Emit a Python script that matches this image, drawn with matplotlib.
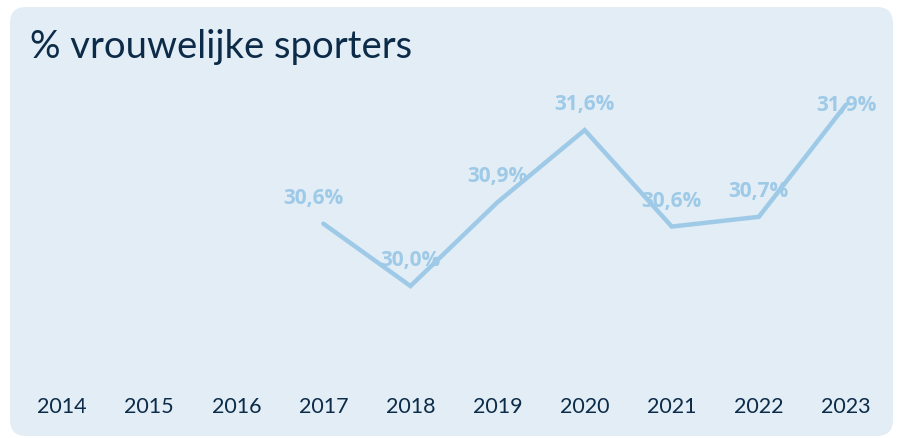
import matplotlib
matplotlib.use("Agg")
import matplotlib.pyplot as plt
from matplotlib.patches import FancyBboxPatch

years = ["2014", "2015", "2016", "2017", "2018", "2019", "2020", "2021", "2022", "2023"]
values = [None, None, None, 30.64, 30.00, 30.86, 31.60, 30.61, 30.71, 31.86]
labels = [None, None, None, "30,6%", "30,0%", "30,9%", "31,6%", "30,6%", "30,7%", "31,9%"]
title = "% vrouwelijke sporters"

W, H = 902, 439
fig = plt.figure(figsize=(W / 100, H / 100), dpi=100)
fig.patch.set_facecolor("white")

bg = "#e2edf5"
line_col = "#9ecae8"
navy = "#0c2b48"

card = FancyBboxPatch((10 / W, 2 / H), 883 / W, 429 / H,
                      boxstyle="round,pad=0,rounding_size=0.018",
                      transform=fig.transFigure, facecolor=bg, edgecolor="none",
                      mutation_aspect=W / H, zorder=-10)
fig.patches.append(card)

left, right = 18.5, 889.5
top_px, bot_px = 95, 384.5
ax = fig.add_axes([left / W, 1 - bot_px / H, (right - left) / W, (bot_px - top_px) / H])
ax.set_zorder(5)
ax.set_facecolor("none")
for s in ax.spines.values():
    s.set_visible(False)

xs = [i for i, v in enumerate(values) if v is not None]
ys = [v for v in values if v is not None]
ax.plot(xs, ys, color=line_col, lw=3.2, solid_capstyle="round", solid_joinstyle="miter")
ax.set_xlim(-0.5, len(years) - 0.5)
ax.set_ylim(29.0, 31.97)
ax.set_yticks([])
ax.set_xticks(range(len(years)))
ax.set_xticklabels(years, fontsize=15.5, color=navy, family="Lato")
ax.tick_params(axis="x", length=0, pad=9)

for i, (v, lab) in enumerate(zip(values, labels)):
    if v is None:
        continue
    off = 0 if i == len(values) - 1 else 19
    dx = -7 if i == 3 else 0
    ax.annotate(lab, (i, v), xytext=(dx, off), textcoords="offset points",
                ha="center", va="center", fontsize=15, fontweight="bold",
                color=line_col, family="Open Sans", annotation_clip=False)

fig.text(30 / W, 1 - 47 / H, title, fontsize=27.5, color=navy, family="Lato",
         ha="left", va="center")

fig.savefig("out.png", dpi=100, facecolor="white")
